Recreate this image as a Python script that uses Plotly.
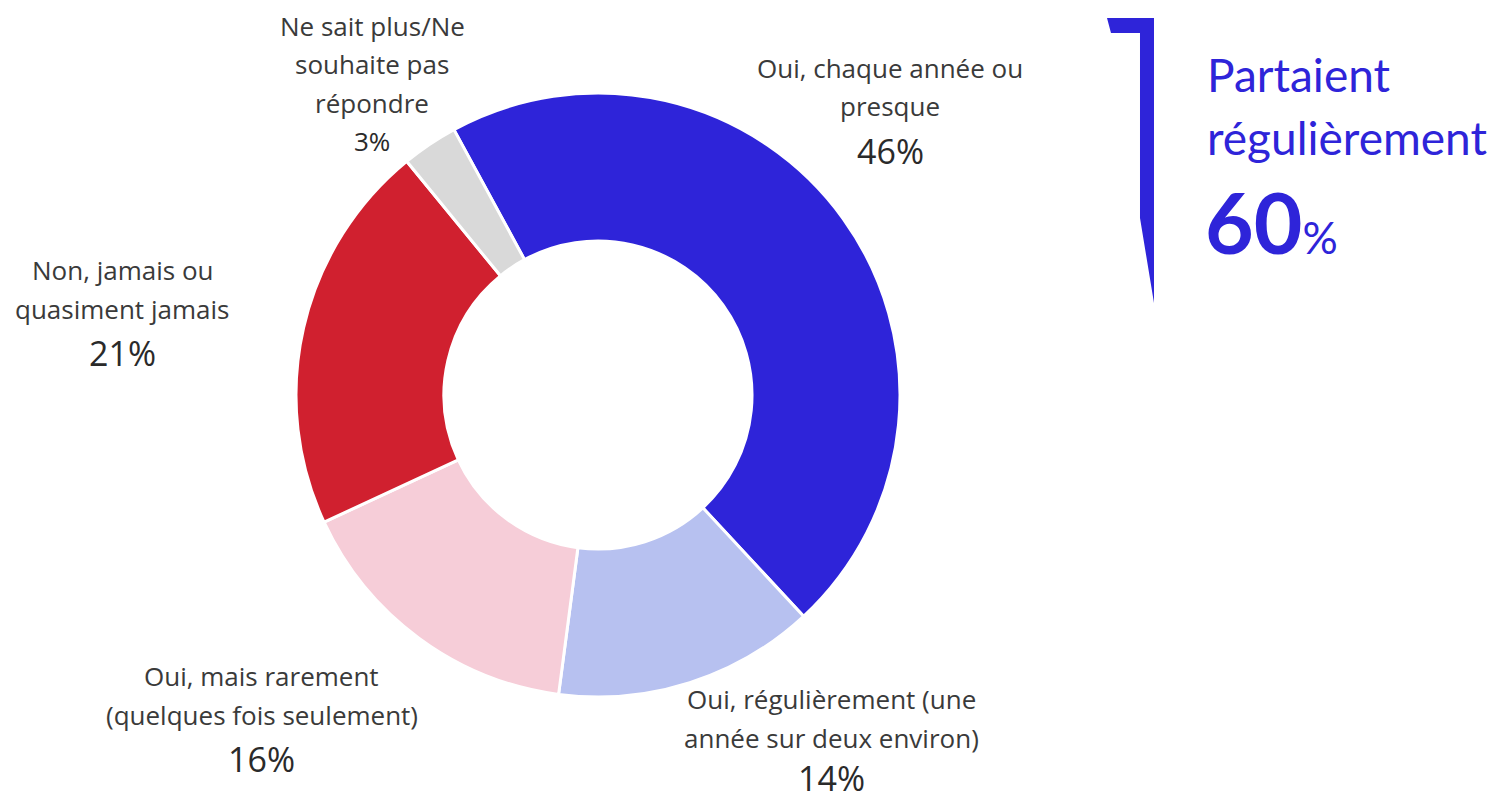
import plotly.graph_objects as go

# ---- data ----
labels = [
    "Oui, chaque année ou presque",
    "Oui, régulièrement (une année sur deux environ)",
    "Oui, mais rarement (quelques fois seulement)",
    "Non, jamais ou quasiment jamais",
    "Ne sait plus/Ne souhaite pas répondre",
]
values = [46, 14, 16, 21, 3]
colors = ["#2E24D9", "#B7C1F0", "#F6CDD8", "#D0202F", "#D9D9D9"]
label_lines = [
    ["Oui, chaque année ou", "presque"],
    ["Oui, régulièrement (une", "année sur deux environ)"],
    ["Oui, mais rarement", "(quelques fois seulement)"],
    ["Non, jamais ou", "quasiment jamais"],
    ["Ne sait plus/Ne", "souhaite pas", "répondre"],
]
summary_label = ["Partaient", "régulièrement"]
summary_value = 60

WIN_W, WIN_H = 1496, 803
OFF = 8  # page body margin
W, H = WIN_W - OFF, WIN_H - OFF
FONT = "'Open Sans', 'Noto Sans', sans-serif"
FONT2 = "Lato, 'Noto Sans', sans-serif"
TXT = "#3a3a3a"

label_pos = [(890, 68), (832, 699), (262, 676), (122, 270), (372, 26)]
big_pct = [True, True, True, True, False]
pct_shift = [6, 2, 6, 6, 0]
LS = 38.5


def px(x):
    return (x - OFF) / W


def py(y):
    return 1 - (y - OFF) / H


CX, CY, R = 598, 395, 302

fig = go.Figure()
fig.add_trace(go.Pie(
    labels=labels, values=values, sort=False, direction="clockwise",
    rotation=-28.5, hole=0.51,
    marker=dict(colors=colors, line=dict(color="white", width=3)),
    textinfo="none", hoverinfo="label+percent", showlegend=False,
    domain=dict(x=[px(CX - R), px(CX + R)], y=[py(CY + R), py(CY - R)]),
))

anns = []
for lines, (cx, y0), v, big, sh in zip(label_lines, label_pos, values, big_pct, pct_shift):
    for i, ln in enumerate(lines):
        anns.append(dict(x=px(cx), y=py(y0 + i * LS), xref="paper", yref="paper",
                         text=ln, showarrow=False, xanchor="center", yanchor="middle",
                         borderpad=0,
                         font=dict(family=FONT, size=26, color=TXT)))
    yl = y0 + len(lines) * LS + sh
    anns.append(dict(x=px(cx), y=py(yl), xref="paper", yref="paper",
                     text=f"{v}%", showarrow=False, xanchor="center", yanchor="middle",
                     borderpad=0,
                     font=dict(family=FONT, size=34 if big else 26, color="#2a2a2a")))

BLUE = "#2E24D9"
anns.append(dict(x=px(1205), y=py(75), xref="paper", yref="paper", text=summary_label[0],
                 showarrow=False, xanchor="left", yanchor="middle",
                 font=dict(family=FONT2, size=46, color=BLUE)))
anns.append(dict(x=px(1205), y=py(138), xref="paper", yref="paper", text=summary_label[1],
                 showarrow=False, xanchor="left", yanchor="middle",
                 font=dict(family=FONT2, size=46, color=BLUE)))
anns.append(dict(x=px(1203), y=py(222), xref="paper", yref="paper",
                 text=f"<b>{summary_value}</b><span style='font-size:44px'>%</span>",
                 showarrow=False, xanchor="left", yanchor="middle",
                 font=dict(family=FONT2, size=84, color=BLUE)))

# bracket decoration
pts = [(1107, 18), (1154, 18), (1154, 303), (1140, 218), (1140, 33), (1111, 33)]
path = "M " + " L ".join(f"{px(x):.5f},{py(y):.5f}" for x, y in pts) + " Z"
fig.add_shape(type="path", path=path, xref="paper", yref="paper",
              fillcolor=BLUE, line=dict(width=0))

fig.update_layout(
    width=W, height=H, margin=dict(l=0, r=0, t=0, b=0),
    paper_bgcolor="white", plot_bgcolor="white",
    annotations=anns,
)
fig.write_html("out.html")
